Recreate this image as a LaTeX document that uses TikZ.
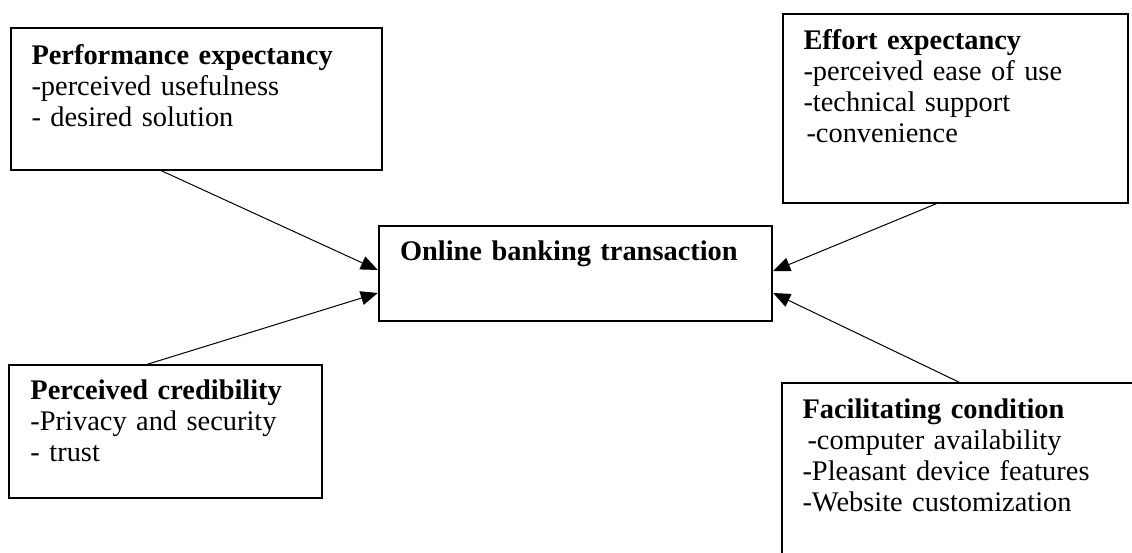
\documentclass[tikz,border=0pt]{standalone}
\usepackage{fontspec}
\setmainfont{Liberation Serif}
\usetikzlibrary{arrows.meta, positioning, fit}

\begin{document}
\begin{tikzpicture}[x=1pt, y=-1pt]
    \def \fs {28.4}
    \tikzstyle{every node}=[font=\fontsize{\fs}{31}\selectfont];
    \tikzstyle{box}=[draw, line width=1.4pt, inner sep=0pt];
    \tikzstyle{txt}=[anchor=base west, align=left, inner sep=0pt, text width=420pt];
    \tikzstyle{flow}=[line width=1pt, -{Triangle[length=17pt, width=14pt]}];
    \path[use as bounding box, clip] (0,0) rectangle (1132,552);
    % boxes
    \node[box, fit={(11,28) (382,170)}] (perf) {};
    \node[box, fit={(783,14) (1128,203)}] (effort) {};
    \node[box, line width=2.4pt, fit={(379,226) (772,321)}] (bank) {};
    \node[box, fit={(9,365) (322,498)}] (cred) {};
    \node[box, fit={(782,383) (1150,580)}] (facil) {};
    % texts
    \node[txt] (perf-t) at ([shift={(21,37)}]perf.north west)
        {\textbf{Performance expectancy}\\-perceived usefulness\\- desired solution};
    \node[txt] (effort-t) at ([shift={(21,36)}]effort.north west)
        {\textbf{Effort expectancy}\\-perceived ease of use\\-technical support\\\hspace{3pt}-convenience};
    \node[txt] (bank-t) at ([shift={(22,36)}]bank.north west)
        {\textbf{Online banking transaction}};
    \node[txt] (cred-t) at ([shift={(22,35)}]cred.north west)
        {\textbf{Perceived credibility}\\-Privacy and security\\- trust};
    \node[txt] (facil-t) at ([shift={(21,36)}]facil.north west)
        {\textbf{Facilitating condition}\\\hspace{5pt}-computer availability\\-Pleasant device features\\-Website customization};
    % arrows
    \draw[flow] ([shift={(151,0)}]perf.south west) -- ([shift={(0,-3.5)}]bank.west);
    \draw[flow] ([shift={(139,0)}]cred.north west) -- ([shift={(0,19.5)}]bank.west);
    \draw[flow] ([shift={(154,0)}]effort.south west) -- ([shift={(0,-2.5)}]bank.east);
    \draw[flow] ([shift={(178,0)}]facil.north west) -- ([shift={(0,19.5)}]bank.east);
\end{tikzpicture}
\end{document}
